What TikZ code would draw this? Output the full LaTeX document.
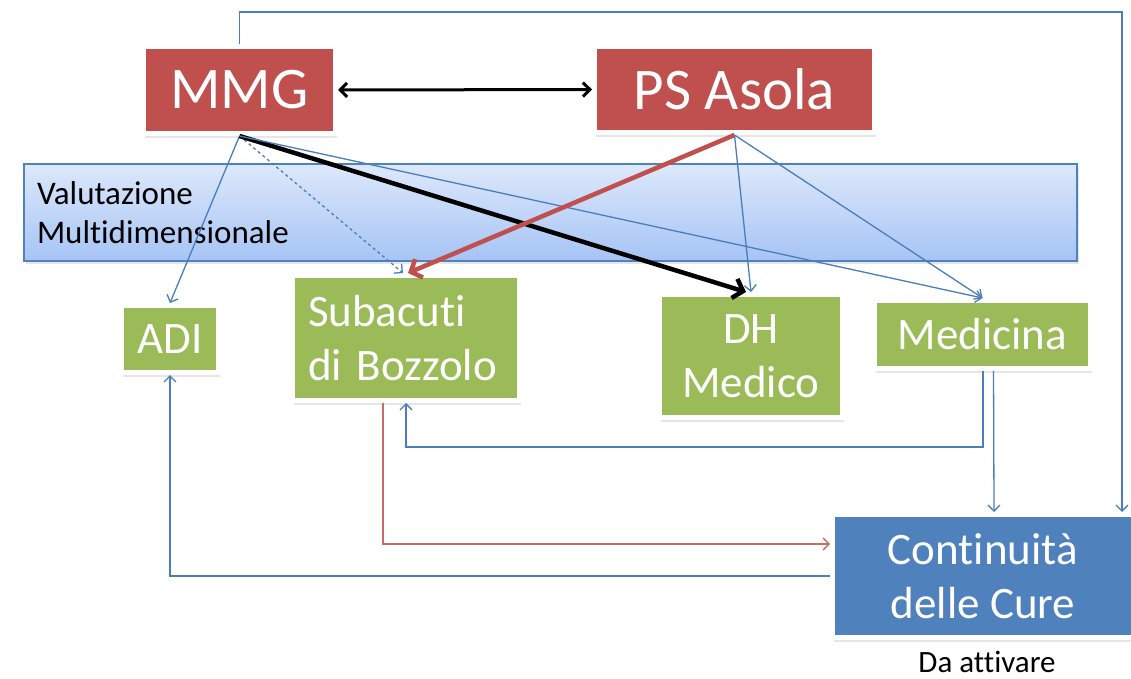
\documentclass[tikz,border=0pt]{standalone}
\usepackage{fontspec}
\setmainfont{Carlito}[Ligatures=NoCommon]
\usetikzlibrary{arrows.meta,shadows}

\definecolor{boxred}{HTML}{C0504D}
\definecolor{boxgreen}{HTML}{9BBB59}
\definecolor{boxblue}{HTML}{4F81BD}
\definecolor{linkblue}{HTML}{4A7EBB}
\definecolor{bandtop}{HTML}{DDE8FB}
\definecolor{bandbottom}{HTML}{A6C4F5}

\begin{document}
\begin{tikzpicture}[
  x=1pt, y=-1pt,
  every node/.style={inner sep=0pt},
  card/.style={draw=white, line width=5pt, text=white, align=center,
    drop shadow={shadow xshift=1.5pt, shadow yshift=-4.5pt, opacity=0.2}},
  topcard/.style={card, fill=boxred, font=\fontsize{59}{70}\selectfont},
  ward/.style={card, fill=boxgreen, font=\fontsize{45}{54}\selectfont},
  band/.style={draw=boxblue, line width=1.2pt, top color=bandtop, bottom color=bandbottom,
    text=black, align=left, text width=1027pt, inner xsep=13pt, minimum height=97pt,
    font=\fontsize{33}{39}\selectfont,
    drop shadow={shadow xshift=1.5pt, shadow yshift=-3pt, opacity=0.2}},
  link/.style={draw=linkblue, line width=1.3pt, -{Straight Barb[length=6pt,width=12pt]}},
  redlink/.style={link, draw=boxred!85},
  heavy/.style={draw=black, line width=4.5pt, -{Straight Barb[length=9pt,width=20pt]}},
  redheavy/.style={heavy, draw=boxred},
  both/.style={draw=black, line width=3pt,
    {Straight Barb[length=7pt,width=14pt]}-{Straight Barb[length=7pt,width=14pt]}}
  ]

\useasboundingbox (0,0) rectangle (1131,679);

% entry points
\node[topcard, minimum width=192pt, minimum height=87pt] (mmg) at (239.5,90) {MMG};
\node[topcard, minimum width=280pt, minimum height=86pt] (ps) at (734.5,89.5) {PS Asola};

% band
\node[band, minimum width=1053pt] (valmd) at (550.5,212.5) {Valutazione\\Multidimensionale};

% wards
\node[ward, minimum width=97pt, minimum height=67pt] (adi) at (170,339) {ADI};
\node[ward, text width=196pt, inner xsep=15.5pt, align=left, minimum height=125pt] (subacuti) at (406,338) {Subacuti\\di Bozzolo};
\node[ward, minimum width=183pt, minimum height=123pt] (dh) at (751,356) {DH\\Medico};
\node[ward, minimum width=216pt, minimum height=68pt] (medicina) at (982.5,334.5) {Medicina};
\node[ward, fill=boxblue, minimum width=301pt, minimum height=123pt] (cure) at (983,576) {Continuità\\delle Cure};
\node[font=\fontsize{31}{37}\selectfont, anchor=base] (daatt) at (987,672) {Da attivare};

% connectors
\draw[both] (mmg.east) -- (ps.west);

\draw[link] (mmg.south) -- (adi.north);
\draw[link, dashed] (mmg.south) -- ([xshift=-3pt]subacuti.north);
\draw[heavy] (mmg.south) -- ([xshift=-5pt]dh.north);
\draw[link] (mmg.south) -- (medicina.north);

\draw[redheavy] (ps.south) -- ([xshift=2pt]subacuti.north);
\draw[link] (ps.south) -- (dh.north);
\draw[link] (ps.south) -- (medicina.north);

% back paths
\draw[link] (mmg.north) -- ++(0,-32) -| ([xshift=139pt]cure.north);
\draw[link] ([xshift=0.5pt]medicina.south) -- ++(0,76) -| (subacuti.south);
\draw[link] ([xshift=11pt]medicina.south) -- ([xshift=11pt]cure.north);
\draw[redlink] ([xshift=-23pt]subacuti.south) |- ([yshift=32pt]cure.west);
\draw[link] (cure.west) -| (adi.south);
\end{tikzpicture}
\end{document}
